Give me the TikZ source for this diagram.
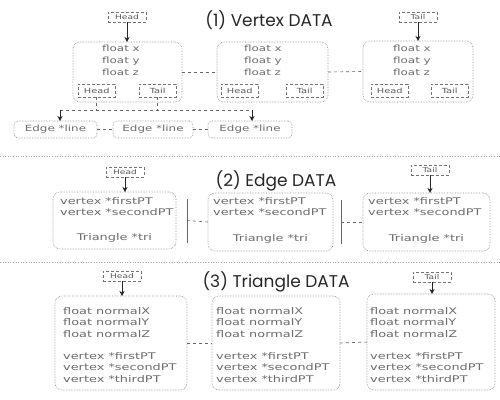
\documentclass[tikz,border=0pt]{standalone}
\usepackage{fontspec}
\setmainfont{DejaVu Sans}
\newfontfamily\titlefont{Poppins}
\newfontfamily\boxfont[FakeStretch=1.4]{DejaVu Sans}
\usetikzlibrary{arrows.meta,calc}

\begin{document}
\begin{tikzpicture}[x=1pt,y=-1pt,
  frame/.style={draw=black!45, densely dotted, rounded corners=7pt, line width=0.6pt,
    inner sep=0pt, outer sep=0pt, anchor=north west},
  tag/.style={draw=black!55, densely dashed, inner sep=0pt, minimum width=38pt, minimum height=10pt,
    font=\boxfont\fontsize{6.5}{7}\selectfont, text=black!65},
  slot/.style={draw=black!55, densely dashed, inner sep=0pt, minimum width=37pt, minimum height=13pt,
    font=\boxfont\fontsize{7}{8}\selectfont, text=black!65, anchor=north west},
  body/.style={font=\boxfont\fontsize{8.5}{12}\selectfont, text=black!58, align=left,
    anchor=north west, inner sep=0pt},
  wide/.style={body, font=\boxfont\fontsize{9.2}{11.7}\selectfont},
  heading/.style={font=\titlefont\fontsize{17}{20}\selectfont, text=black!85},
  ptr/.style={-{Stealth[length=5pt,width=5pt]}, black!85, line width=0.5pt},
  link/.style={draw=black!60, dashed, line width=0.6pt},
  bar/.style={draw=black!60, line width=0.8pt},
  sep/.style={draw=black!35, dotted, line width=0.6pt}]

\useasboundingbox (0,0) rectangle (500,399);

% ---------------- (1) Vertex DATA ----------------
\node[heading] (title1) at (269,20) {(1) Vertex DATA};
\node[tag] (headA) at (127,17) {Head};
\node[tag] (tailA) at (418,17) {Tail};

\node[frame, minimum width=109pt, minimum height=60pt] (v1) at (73,42) {};
\node[frame, minimum width=111pt, minimum height=60pt] (v2) at (217,42) {};
\node[frame, minimum width=110pt, minimum height=61pt] (v3) at (363,41) {};

\node[body] (v1t) at (102,45) {float x\\float y\\float z};
\node[body] (v2t) at (244,45) {float x\\float y\\float z};
\node[body] (v3t) at (393,45) {float x\\float y\\float z};

\node[slot] (v1h) at (78,84) {Head};
\node[slot] (v1l) at (139,84) {Tail};
\node[slot] (v2h) at (221,84) {Head};
\node[slot] (v2l) at (286,84) {Tail};
\node[slot] (v3h) at (371,84) {Head};
\node[slot] (v3l) at (431,84) {Tail};

\draw[ptr] (headA.south) -- (headA.south |- v1.north);
\draw[ptr] (tailA.south) -- (tailA.south |- v3.north);
\draw[link] (v1.east) -- (v2.west);
\draw[link] (v2.east) -- (v3.west);

% edge list hanging off the first vertex
\node[frame, minimum width=83pt, minimum height=17pt, rounded corners=4pt] (l1) at (14,121) {};
\node[frame, minimum width=80pt, minimum height=17pt, rounded corners=4pt] (l2) at (113,121) {};
\node[frame, minimum width=84pt, minimum height=17pt, rounded corners=4pt] (l3) at (208,121) {};
\node[body, anchor=center] at (l1.center) {Edge *line};
\node[body, anchor=center] at (l2.center) {Edge *line};
\node[body, anchor=center] at (l3.center) {Edge *line};
\draw[link] (l1.east) -- (l2.west);
\draw[link] (l2.east) -- (l3.west);

\coordinate (jL) at (60,110);
\coordinate (jR) at (252,110);
\draw[link] (v1h.south) -- (v1h.south |- jL);
\draw[link] (v1l.south) -- (v1l.south |- jL);
\draw[link] (jL) -- (jR);
\draw[ptr] (jL) -- (jL |- l1.north);
\draw[ptr] (jR) -- (jR |- l3.north);

\draw[sep] (0,156) -- (500,156);

% ---------------- (2) Edge DATA ----------------
\node[heading] (title2) at (276,181) {(2) Edge DATA};
\node[tag] (headB) at (125,172) {Head};
\node[tag] (tailB) at (430,170) {Tail};

\node[frame, minimum width=123pt, minimum height=57pt] (e1) at (53,192) {};
\node[frame, minimum width=125pt, minimum height=58pt] (e2) at (208,193) {};
\node[frame, minimum width=127pt, minimum height=58pt] (e3) at (363,193) {};

\node[wide] (e1t) at (60,197) {vertex *firstPT\\vertex *secondPT};
\node[wide] (e2t) at (213,197) {vertex *firstPT\\vertex *secondPT};
\node[wide] (e3t) at (368,197) {vertex *firstPT\\vertex *secondPT};
\node[wide, anchor=center] at ($(e1.center)+(0,17)$) {Triangle *tri};
\node[wide, anchor=center] at ($(e2.center)+(0,17)$) {Triangle *tri};
\node[wide, anchor=center] at ($(e3.center)+(0,17)$) {Triangle *tri};

\draw[ptr] (headB.south) -- (headB.south |- e1.north);
\draw[ptr] (tailB.south) -- (tailB.south |- e3.north);

\draw[bar] ([xshift=11pt,yshift=-22pt]e1.east) -- ([xshift=11pt,yshift=22pt]e1.east);
\draw[link] ([xshift=11pt]e1.east) -- (e2.west);
\draw[bar] ([xshift=8pt,yshift=-22pt]e2.east) -- ([xshift=8pt,yshift=22pt]e2.east);
\draw[link] ([xshift=8pt]e2.east) -- (e3.west);

\draw[sep] (0,262) -- (500,262);

% ---------------- (3) Triangle DATA ----------------
\node[heading] (title3) at (276,282) {(3) Triangle DATA};
\node[tag] (headC) at (122,276) {Head};
\node[tag] (tailC) at (432,277) {Tail};

\node[frame, minimum width=132pt, minimum height=94pt] (t1) at (55,296) {};
\node[frame, minimum width=128pt, minimum height=94pt] (t2) at (212,296) {};
\node[frame, minimum width=128pt, minimum height=96pt] (t3) at (367,294) {};

\node[wide] (t1t) at (63,307) {float normalX\\float normalY\\float normalZ\\[10pt]vertex *firstPT\\vertex *secondPT\\vertex *thirdPT};
\node[wide] (t2t) at (216,307) {float normalX\\float normalY\\float normalZ\\[10pt]vertex *firstPT\\vertex *secondPT\\vertex *thirdPT};
\node[wide] (t3t) at (370,307) {float normalX\\float normalY\\float normalZ\\[10pt]vertex *firstPT\\vertex *secondPT\\vertex *thirdPT};

\draw[ptr] (headC.south) -- (headC.south |- t1.north);
\draw[ptr] (tailC.south) -- (tailC.south |- t3.north);
\draw[link] (t1.east) -- (t2.west);
\draw[link] (t2.east) -- (t3.west);

\end{tikzpicture}
\end{document}
